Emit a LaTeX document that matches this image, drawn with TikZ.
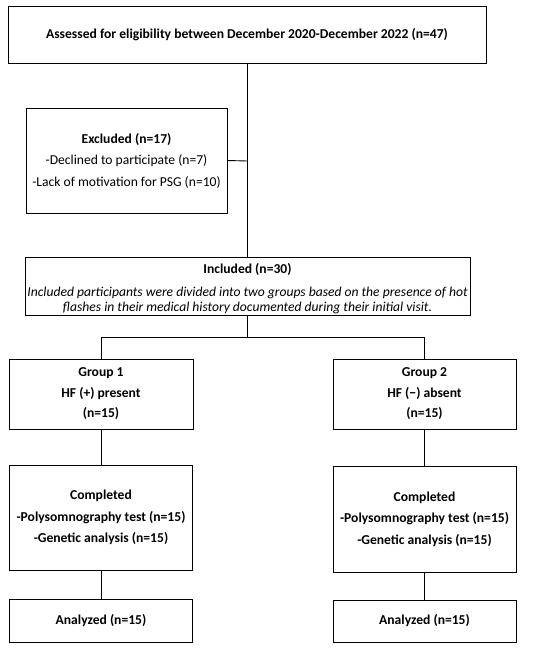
\documentclass[tikz,border=0pt]{standalone}
\usepackage{fontspec}
\setmainfont{Carlito}
\begin{document}
\begin{tikzpicture}[x=1pt,y=-1pt,
  box/.style={draw=black,line width=0.9pt,align=center,inner sep=0pt,font=\bfseries\fontsize{13.6}{21.5}\selectfont},
  conn/.style={draw=black,line width=0.9pt}]
\useasboundingbox (0,0) rectangle (550,650);
\node[box,minimum width=478,minimum height=57] (top) at (247,34.5) {Assessed for eligibility between December 2020-December 2022 (n=47)};
\node[box,minimum width=201,minimum height=105] (exc) at (126.5,160.5) {Excluded (n=17)\\\mdseries -Declined to participate (n=7)\\\mdseries -Lack of motivation for PSG (n=10)};
\node[box,minimum width=445,minimum height=58,font=\fontsize{13.6}{15}\selectfont] (inc) at (247.5,286) {\rule{0pt}{15pt}\textbf{Included (n=30)}\\[8.5pt]\itshape Included participants were divided into two groups based on the presence of hot\\\itshape flashes in their medical history documented during their initial visit.};
\node[box,minimum width=184,minimum height=70,font=\bfseries\fontsize{13.6}{20.5}\selectfont] (g1) at (101,394) {Group 1\\HF (+) present\\(n=15)};
\node[box,minimum width=183,minimum height=70,font=\bfseries\fontsize{13.6}{20.5}\selectfont] (g2) at (424.5,394) {Group 2\\HF (\textminus) absent\\(n=15)};
\node[box,minimum width=183,minimum height=105] (c1) at (101,517.5) {Completed\\-Polysomnography test (n=15)\\-Genetic analysis (n=15)};
\node[box,minimum width=183,minimum height=106] (c2) at (424.5,519) {Completed\\-Polysomnography test (n=15)\\-Genetic analysis (n=15)};
\node[box,minimum width=183,minimum height=43] (a1) at (101,620.5) {Analyzed (n=15)};
\node[box,minimum width=183,minimum height=42] (a2) at (424.5,621) {Analyzed (n=15)};
\coordinate (j) at (247,161);
\coordinate (b) at (247,337);
\coordinate (bl) at (101,337);
\coordinate (br) at (424.5,337);
\draw[conn] (top.south) -- (inc.north -| top.south);
\draw[conn] (exc.east) -- (j);
\draw[conn] (inc.south -| b) -- (b);
\draw[conn] (bl) -- (br);
\draw[conn] (bl) -- (g1.north);
\draw[conn] (br) -- (g2.north);
\draw[conn] (g1.south) -- (c1.north);
\draw[conn] (g2.south) -- (c2.north);
\draw[conn] (c1.south) -- (a1.north);
\draw[conn] (c2.south) -- (a2.north);
\end{tikzpicture}
\end{document}
